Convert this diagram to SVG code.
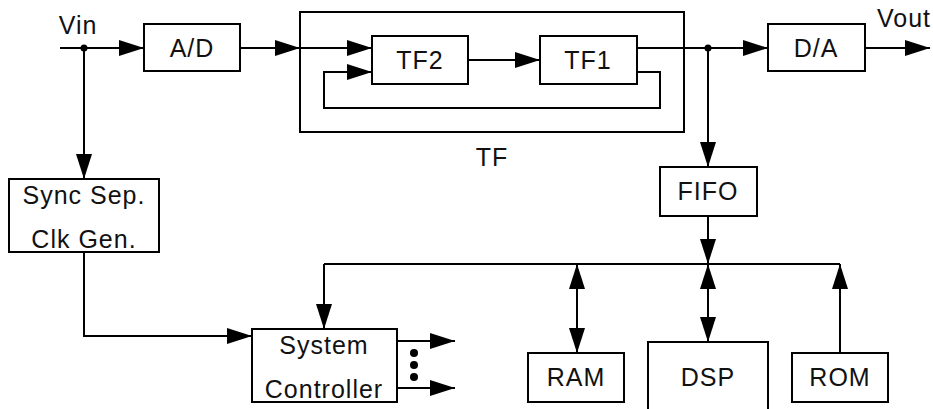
<svg xmlns="http://www.w3.org/2000/svg" width="933" height="409" viewBox="0 0 933 409">
<defs>
<marker id="ah" markerUnits="userSpaceOnUse" markerWidth="26" markerHeight="18" refX="25" refY="8" orient="auto-start-reverse" viewBox="0 0 26 16">
<path d="M0,0 L25,8 L0,16 z" fill="#000"/>
</marker>
</defs>
<style>
.box{fill:#fff;stroke:#000;stroke-width:2}
.ln{fill:none;stroke:#000;stroke-width:2}
.ar{marker-end:url(#ah)}
.da{marker-start:url(#ah);marker-end:url(#ah)}
text{font-family:"Liberation Sans",Arial,sans-serif;font-size:25px;letter-spacing:1px;fill:#111;text-anchor:middle}
</style>
<rect width="933" height="409" fill="#fff"/>
<g id="connectors">
<path class="ln" d="M60,48 H84"/>
<path class="ln ar" d="M84,48 H144"/>
<path class="ln ar" d="M240,48 H300"/>
<path class="ln ar" d="M300,48 H372"/>
<path class="ln ar" d="M468,60 H540"/>
<path class="ln ar" d="M637,72 H660 V108 H324 V72 H372"/>
<path class="ln" d="M637,48 H708"/>
<path class="ln ar" d="M708,48 H768"/>
<path class="ln ar" d="M865,48 H930"/>
<path class="ln ar" d="M708,48 V167"/>
<path class="ln ar" d="M84,48 V179"/>
<path class="ln ar" d="M84,252 V336 H252"/>
<path class="ln ar" d="M708,216 V264"/>
<path class="ln" d="M324,264 H840"/>
<path class="ln ar" d="M324,264 V329"/>
<path class="ln da" d="M577,264 V353"/>
<path class="ln da" d="M708,264 V342"/>
<path class="ln ar" d="M840,353 V264"/>
<path class="ln ar" d="M397,341 H455"/>
<path class="ln ar" d="M397,388 H455"/>
<circle cx="84" cy="48" r="3.5"/>
<circle cx="708" cy="48" r="3.5"/>
<circle cx="414" cy="353" r="4"/>
<circle cx="414" cy="365" r="4"/>
<circle cx="414" cy="377" r="4"/>
</g>
<text x="78" y="34">Vin</text>
<text x="904" y="27">Vout</text>
<g id="ad"><rect class="box" x="144" y="24" width="96" height="47"/><text x="192" y="57">A/D</text></g>
<g id="tf"><rect class="ln" x="300" y="12" width="384" height="120"/><text x="492" y="166">TF</text></g>
<g id="tf2"><rect class="box" x="372" y="36" width="96" height="48"/><text x="420" y="69">TF2</text></g>
<g id="tf1"><rect class="box" x="540" y="36" width="97" height="48"/><text x="588" y="69">TF1</text></g>
<g id="da"><rect class="box" x="768" y="24" width="97" height="47"/><text x="816" y="57">D/A</text></g>
<g id="fifo"><rect class="box" x="660" y="167" width="97" height="49"/><text x="708" y="200">FIFO</text></g>
<g id="sync"><rect class="box" x="9" y="179" width="150" height="73"/><text x="84" y="204">Sync Sep.</text><text x="84" y="248">Clk Gen.</text></g>
<g id="sysctrl"><rect class="box" x="252" y="329" width="145" height="73"/><text x="324" y="354">System</text><text x="324" y="398">Controller</text></g>
<g id="ram"><rect class="box" x="528" y="353" width="96" height="49"/><text x="576" y="386">RAM</text></g>
<g id="dsp"><rect class="box" x="648" y="342" width="120" height="80"/><text x="708" y="386">DSP</text></g>
<g id="rom"><rect class="box" x="792" y="353" width="96" height="49"/><text x="840" y="386">ROM</text></g>
</svg>
